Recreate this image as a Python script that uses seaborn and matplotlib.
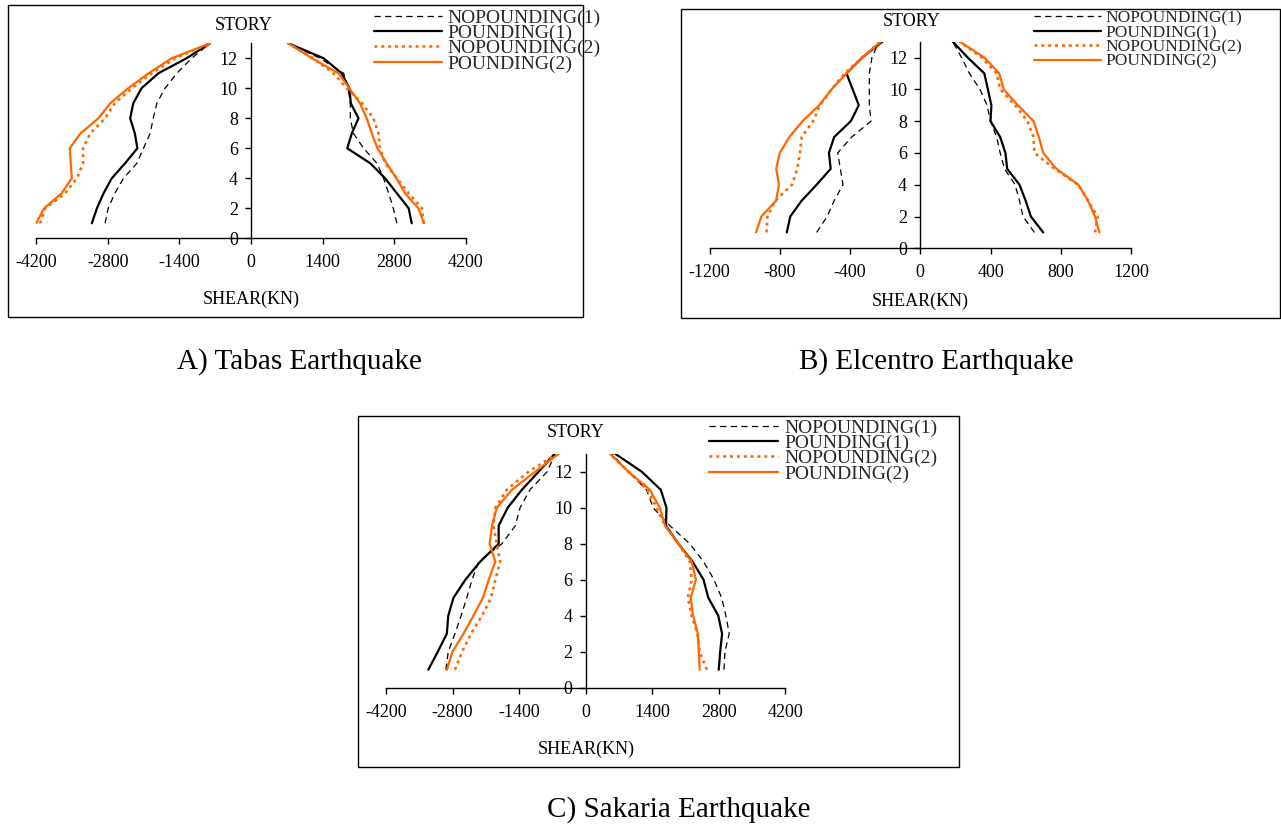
import numpy as np
import pandas as pd
import matplotlib
matplotlib.use("Agg")
import matplotlib.pyplot as plt
from matplotlib.patches import Rectangle
from matplotlib.lines import Line2D
import seaborn as sns

# ---------------- data ----------------
stories = list(range(1, 14))
story_ticks = [0, 2, 4, 6, 8, 10, 12]
series_labels = ["NOPOUNDING(1)", "POUNDING(1)", "NOPOUNDING(2)", "POUNDING(2)"]

tabas_xticks = [-4200, -2800, -1400, 0, 1400, 2800, 4200]
tabas_nop1_neg = [-2850, -2790, -2660, -2490, -2230, -2100, -1970, -1910, -1840, -1680, -1450, -1160, -800]
tabas_pnd1_neg = [-3110, -3010, -2880, -2720, -2460, -2220, -2270, -2360, -2300, -2140, -1810, -1260, -800]
tabas_nop2_neg = [-4120, -4020, -3630, -3400, -3280, -3280, -3140, -2850, -2660, -2330, -1940, -1480, -800]
tabas_pnd2_neg = [-4200, -4040, -3700, -3500, -3520, -3540, -3330, -2980, -2750, -2400, -2000, -1550, -800]
tabas_nop1_pos = [2850, 2780, 2690, 2590, 2460, 2200, 2000, 1940, 1940, 1900, 1810, 1350, 730]
tabas_pnd1_pos = [3140, 3080, 2850, 2620, 2330, 1880, 1970, 2100, 1950, 1920, 1770, 1420, 730]
tabas_nop2_pos = [3370, 3340, 3080, 2850, 2620, 2520, 2490, 2390, 2170, 1870, 1610, 1220, 730]
tabas_pnd2_pos = [3380, 3270, 3010, 2840, 2650, 2470, 2360, 2260, 2130, 1920, 1710, 1190, 730]

elc_xticks = [-1200, -800, -400, 0, 400, 800, 1200]
elc_nop1_neg = [-590, -530, -490, -440, -455, -470, -390, -280, -290, -290, -290, -275, -235]
elc_pnd1_neg = [-760, -740, -675, -590, -510, -520, -490, -395, -350, -385, -420, -330, -215]
elc_nop2_neg = [-875, -870, -825, -730, -700, -685, -675, -610, -570, -505, -430, -330, -225]
elc_pnd2_neg = [-935, -905, -820, -805, -820, -800, -745, -670, -575, -505, -420, -330, -225]
elc_nop1_pos = [650, 585, 565, 540, 480, 455, 435, 400, 380, 340, 280, 235, 185]
elc_pnd1_pos = [700, 630, 600, 565, 495, 485, 455, 400, 405, 385, 365, 270, 185]
elc_nop2_pos = [995, 1010, 955, 900, 765, 650, 645, 610, 540, 455, 435, 350, 225]
elc_pnd2_pos = [1020, 995, 955, 900, 775, 700, 675, 645, 555, 475, 450, 365, 225]

sak_xticks = [-4200, -2800, -1400, 0, 1400, 2800, 4200]
sak_nop1_neg = [-2940, -2890, -2750, -2620, -2500, -2390, -2250, -1760, -1480, -1380, -1170, -810, -640]
sak_pnd1_neg = [-3310, -3110, -2920, -2890, -2780, -2530, -2220, -1830, -1830, -1640, -1340, -990, -650]
sak_nop2_neg = [-2750, -2600, -2410, -2180, -1990, -1900, -1800, -1870, -1940, -1900, -1660, -1200, -600]
sak_pnd2_neg = [-2920, -2800, -2570, -2360, -2160, -2040, -1900, -2020, -1970, -1870, -1550, -1060, -570]
sak_nop1_pos = [2910, 2930, 3020, 2950, 2860, 2700, 2480, 2190, 1770, 1420, 1280, 900, 550]
sak_pnd1_pos = [2800, 2830, 2870, 2790, 2580, 2480, 2250, 1950, 1690, 1700, 1580, 1180, 620]
sak_nop2_pos = [2550, 2400, 2350, 2230, 2150, 2230, 2190, 1950, 1670, 1490, 1300, 900, 510]
sak_pnd2_pos = [2400, 2380, 2360, 2260, 2210, 2320, 2230, 1950, 1670, 1560, 1350, 900, 510]

captions = ["A) Tabas Earthquake", "B) Elcentro Earthquake", "C) Sakaria Earthquake"]

# ---------------- style ----------------
sns.set_theme(style="white")
plt.rcParams["font.family"] = ["Liberation Serif", "DejaVu Serif"]

W, H = 1281, 825
fig = plt.figure(figsize=(W / 100, H / 100), dpi=100)

def fx(px):
    return px / W

def fy(py):
    return 1 - py / H

ORANGE = "#FF6600"
styles = [
    dict(color="black", lw=0.9, ls=(0, (5.0, 3.5))),
    dict(color="black", lw=1.6, ls="-"),
    dict(color=ORANGE, lw=1.9, ls=(0, (1.1, 1.5))),
    dict(color=ORANGE, lw=1.6, ls="-"),
]

panels = [
    dict(series=[(tabas_nop1_neg, tabas_nop1_pos), (tabas_pnd1_neg, tabas_pnd1_pos),
                 (tabas_nop2_neg, tabas_nop2_pos), (tabas_pnd2_neg, tabas_pnd2_pos)],
         xticks=tabas_xticks, ax_px=(36, 466, 238.3, 43.3), box=(8, 583, 5, 317),
         story=(244, 25), shear=(251, 299), leg=(372.7, 8.0, 68, True, -0.12, 14),
         caption=(299, 362)),
    dict(series=[(elc_nop1_neg, elc_nop1_pos), (elc_pnd1_neg, elc_pnd1_pos),
                 (elc_nop2_neg, elc_nop2_pos), (elc_pnd2_neg, elc_pnd2_pos)],
         xticks=elc_xticks, ax_px=(709.5, 1131, 248.3, 41.6), box=(681, 1280, 9, 318),
         story=(912, 22), shear=(920, 301), leg=(1032.7, 9.5, 67, False, -0.1, 12.5),
         caption=(936, 362)),
    dict(series=[(sak_nop1_neg, sak_nop1_pos), (sak_pnd1_neg, sak_pnd1_pos),
                 (sak_nop2_neg, sak_nop2_pos), (sak_pnd2_neg, sak_pnd2_pos)],
         xticks=sak_xticks, ax_px=(386, 785.3, 687.7, 453.7), box=(358, 959, 416, 767),
         story=(576, 432), shear=(586, 749), leg=(708.3, 418.0, 69, False, -0.12, 14),
         caption=(679, 810)),
]

for i, p in enumerate(panels):
    # panel box
    bx0, bx1, by0, by1 = p["box"]
    fig.patches.append(Rectangle((fx(bx0), fy(by1)), fx(bx1) - fx(bx0), fy(by0) - fy(by1),
                                 transform=fig.transFigure, fill=False,
                                 edgecolor="black", lw=1.0, zorder=0))
    x0, x1, yb, yt = p["ax_px"]
    ax = fig.add_axes([fx(x0), fy(yb), fx(x1) - fx(x0), fy(yt) - fy(yb)])
    ax.patch.set_alpha(0)
    for (neg, pos), st in zip(p["series"], styles):
        for vals in (neg, pos):
            df = pd.DataFrame({"shear": vals, "story": stories})
            sns.lineplot(data=df, x="shear", y="story", sort=False, estimator=None,
                         ax=ax, color=st["color"], linewidth=st["lw"], linestyle=st["ls"],
                         legend=False)
    xt = p["xticks"]
    ax.set_xlim(xt[0], xt[-1])
    ax.set_ylim(0, 13)
    ax.set_xticks(xt)
    ax.set_xticklabels([str(v) for v in xt])
    ax.set_yticks(story_ticks)
    ax.set_xlabel("")
    ax.set_ylabel("")
    for s in ["top", "right"]:
        ax.spines[s].set_visible(False)
    ax.spines["left"].set_position(("data", 0))
    ax.spines["left"].set_bounds(0, 13)
    for s in ["left", "bottom"]:
        ax.spines[s].set_color("black")
        ax.spines[s].set_linewidth(1.0)
    ax.tick_params(axis="both", direction="out", length=4.5, width=1.0, color="black",
                   labelsize=13, labelcolor="black")
    ax.tick_params(axis="x", pad=7, bottom=True)
    ax.tick_params(axis="y", pad=5, left=True)
    ax.grid(False)

    fig.text(fx(p["story"][0]), fy(p["story"][1]), "STORY", ha="center", va="center",
             fontsize=13, color="black")
    fig.text(fx(p["shear"][0]), fy(p["shear"][1]), "SHEAR(KN)", ha="center", va="center",
             fontsize=13, color="black")
    fig.text(fx(p["caption"][0]), fy(p["caption"][1]), captions[i],
             ha="center", va="center", fontsize=21, color="black")

    # legend
    lx, ly, hl_px, white, lsp, lfs = p["leg"]
    fs_px = lfs * 100 / 72
    handles = [Line2D([], [], color=st["color"], lw=st["lw"], ls=st["ls"]) for st in styles]
    leg = ax.legend(handles, series_labels, loc="upper left",
                    bbox_to_anchor=(fx(lx), fy(ly)), bbox_transform=fig.transFigure,
                    frameon=white, fancybox=False, borderpad=0.05, borderaxespad=0,
                    handlelength=hl_px / fs_px, handletextpad=0.3,
                    labelspacing=lsp, fontsize=lfs)
    if white:
        fr = leg.get_frame()
        fr.set_facecolor("white")
        fr.set_edgecolor("white")
        fr.set_linewidth(0)
        fr.set_alpha(1)
    leg.set_zorder(5)
    leg.set_clip_on(False)

fig.savefig("out.png", dpi=100)
